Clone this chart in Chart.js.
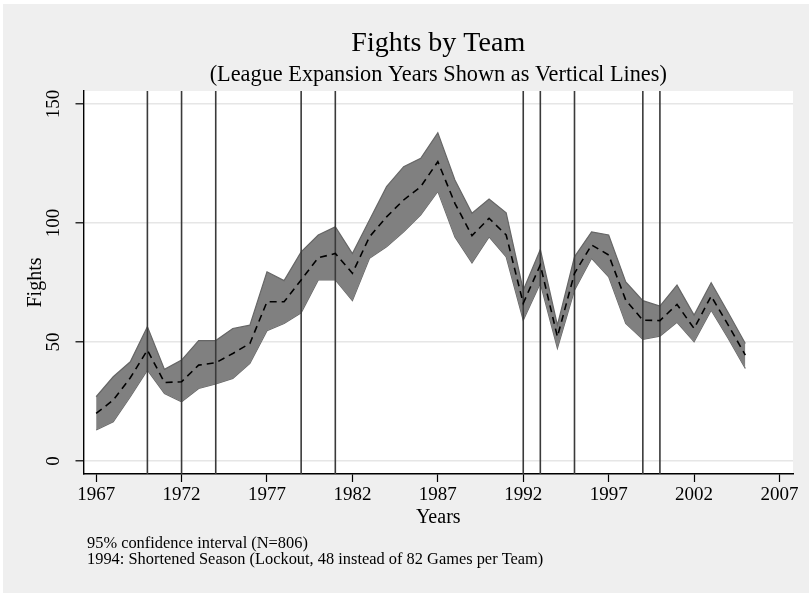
<!DOCTYPE html>
<html lang="en">
<head>
    <meta charset="UTF-8">
    <title>Fights by Team</title>
    <script src="https://cdn.jsdelivr.net/npm/chart.js"></script>
    <style>
        html, body { margin: 0; padding: 0; background: #ffffff; }
        #wrap { width: 809px; height: 593px; }
    </style>
</head>
<body>
    <div id="wrap"><canvas id="fightsChart" width="809" height="593"></canvas></div>

    <script>
        // data
        const years = [1967, 1968, 1969, 1970, 1971, 1972, 1973, 1974, 1975, 1976,
                       1977, 1978, 1979, 1980, 1981, 1982, 1983, 1984, 1985, 1986,
                       1987, 1988, 1989, 1990, 1991, 1992, 1993, 1994, 1995, 1996,
                       1997, 1998, 1999, 2000, 2001, 2002, 2003, 2004, 2005];
        const meanFights = [20.0, 25.6, 35.0, 46.6, 33.0, 33.3, 40.3, 41.3, 45.2, 49.4,
                            66.9, 66.9, 76.1, 85.4, 87.2, 78.9, 94.2, 102.6, 109.7, 115.3,
                            125.8, 108.3, 94.7, 102.0, 95.0, 66.3, 82.4, 52.2, 78.9, 90.8,
                            86.6, 67.6, 59.2, 59.0, 65.8, 55.7, 69.3, 57.1, 44.5];
        const upperCI = [27.0, 35.4, 41.7, 56.4, 38.5, 42.4, 50.6, 50.6, 55.7, 57.1,
                         79.5, 75.8, 87.9, 95.0, 98.4, 87.2, 101.3, 115.3, 123.7, 127.2,
                         137.9, 118.1, 104.1, 110.1, 104.3, 71.8, 88.9, 57.1, 85.8, 96.3,
                         95.0, 75.3, 67.4, 65.1, 73.9, 61.3, 74.9, 62.3, 49.4];
        const lowerCI = [13.0, 16.5, 27.0, 38.2, 28.4, 24.9, 30.5, 32.4, 34.7, 41.0,
                         54.8, 57.8, 62.3, 76.1, 76.1, 67.4, 85.2, 90.0, 96.3, 103.4,
                         113.3, 94.2, 83.3, 94.2, 85.8, 59.2, 74.7, 47.4, 71.8, 85.2,
                         77.4, 57.8, 51.1, 52.5, 58.3, 50.1, 63.4, 51.5, 38.9];
        const expansionYears = [1970, 1972, 1974, 1979, 1981, 1992, 1993, 1995, 1999, 2000];
        const xTicks = [1967, 1972, 1977, 1982, 1987, 1992, 1997, 2002, 2007];
        const yTicks = [0, 50, 100, 150];

        const titleText = "Fights by Team";
        const subtitleText = "(League Expansion Years Shown as Vertical Lines)";
        const xTitle = "Years";
        const yTitle = "Fights";
        const notes = ["95% confidence interval (N=806)",
                       "1994: Shortened Season (Lockout, 48 instead of 82 Games per Team)"];

        const serif = "'Liberation Serif', 'DejaVu Serif', serif";
        const yMin = -5.46, yMax = 155.5;

        const toPoints = vals => years.map((yr, i) => ({ x: yr, y: vals[i] }));

        // one little dataset per expansion year, spanning the full y range
        const vlineSets = expansionYears.map(yr => ({
            type: 'line',
            label: 'exp ' + yr,
            data: [{ x: yr, y: yMin }, { x: yr, y: yMax }],
            borderColor: '#3a3a3a',
            borderWidth: 1.6,
            pointRadius: 0,
            fill: false,
            order: 1
        }));

        // stata-ish frame: gray page, white plot region, titles and notes
        const stataFrame = {
            id: 'stataFrame',
            beforeDraw(chart) {
                const { ctx, chartArea: a } = chart;
                ctx.save();
                ctx.fillStyle = '#ffffff';
                ctx.fillRect(0, 0, chart.width, chart.height);
                ctx.fillStyle = '#efefef';
                ctx.fillRect(3, 4, chart.width - 3, chart.height - 4);
                ctx.fillStyle = '#ffffff';
                ctx.fillRect(a.left, a.top, a.right - a.left, a.bottom - a.top);
                ctx.restore();
            },
            afterDraw(chart) {
                const { ctx, chartArea: a } = chart;
                const yScale = chart.scales.y;
                const cx = (a.left + a.right) / 2;
                ctx.save();
                ctx.fillStyle = '#000000';
                ctx.textAlign = 'center';
                ctx.textBaseline = 'middle';
                ctx.font = '28px ' + serif;
                ctx.fillText(titleText, cx, 44);
                ctx.font = '22.3px ' + serif;
                ctx.fillText(subtitleText, cx, 75);

                ctx.font = '20px ' + serif;
                ctx.fillText(xTitle, cx, 518);

                // rotated y tick labels
                ctx.font = '19px ' + serif;
                yTicks.forEach(v => {
                    const py = yScale.getPixelForValue(v);
                    ctx.save();
                    ctx.translate(54, py);
                    ctx.rotate(-Math.PI / 2);
                    ctx.fillText(String(v), 0, 0);
                    ctx.restore();
                });

                ctx.font = '20px ' + serif;
                ctx.save();
                ctx.translate(36, (a.top + a.bottom) / 2);
                ctx.rotate(-Math.PI / 2);
                ctx.fillText(yTitle, 0, 0);
                ctx.restore();

                ctx.textAlign = 'left';
                ctx.font = '16.4px ' + serif;
                notes.forEach((n, i) => ctx.fillText(n, 87, 544 + i * 16));
                ctx.restore();
            }
        };

        const ctx = document.getElementById('fightsChart').getContext('2d');
        new Chart(ctx, {
            type: 'line',
            data: {
                datasets: [
                    {
                        label: 'Mean',
                        data: toPoints(meanFights),
                        borderColor: '#000000',
                        borderWidth: 1.6,
                        borderDash: [7, 5],
                        pointRadius: 0,
                        fill: false,
                        order: 0
                    },
                    ...vlineSets,
                    {
                        label: 'Upper 95%',
                        data: toPoints(upperCI),
                        borderColor: '#666666',
                        borderWidth: 1.2,
                        backgroundColor: '#808080',
                        pointRadius: 0,
                        fill: '+1',
                        order: 2
                    },
                    {
                        label: 'Lower 95%',
                        data: toPoints(lowerCI),
                        borderColor: '#666666',
                        borderWidth: 1.2,
                        pointRadius: 0,
                        fill: false,
                        order: 3
                    }
                ]
            },
            options: {
                responsive: false,
                animation: false,
                layout: { padding: { left: 0, right: 16, top: 91, bottom: 0 } },
                plugins: {
                    legend: { display: false },
                    tooltip: { enabled: false },
                    title: { display: false }
                },
                scales: {
                    x: {
                        type: 'linear',
                        min: 1966.26,
                        max: 2007.79,
                        afterBuildTicks: s => { s.ticks = xTicks.map(v => ({ value: v })); },
                        afterFit: s => { s.height = 119; },
                        grid: {
                            drawOnChartArea: false,
                            drawTicks: true,
                            tickLength: 8,
                            tickColor: '#000000',
                            tickWidth: 1.2
                        },
                        border: { display: true, color: '#000000', width: 1.4 },
                        ticks: {
                            color: '#000000',
                            font: { family: serif, size: 19 },
                            padding: 2,
                            maxRotation: 0,
                            autoSkip: false,
                            callback: v => String(v)
                        }
                    },
                    y: {
                        type: 'linear',
                        min: yMin,
                        max: yMax,
                        afterBuildTicks: s => { s.ticks = yTicks.map(v => ({ value: v })); },
                        afterFit: s => { s.width = 83.5; },
                        grid: {
                            color: '#e6e6e6',
                            lineWidth: 1.6,
                            drawTicks: true,
                            tickLength: 8,
                            tickColor: '#000000',
                            tickWidth: 1.2
                        },
                        border: { display: true, color: '#000000', width: 1.4 },
                        ticks: { display: false }
                    }
                }
            },
            plugins: [stataFrame]
        });
    </script>
</body>
</html>
